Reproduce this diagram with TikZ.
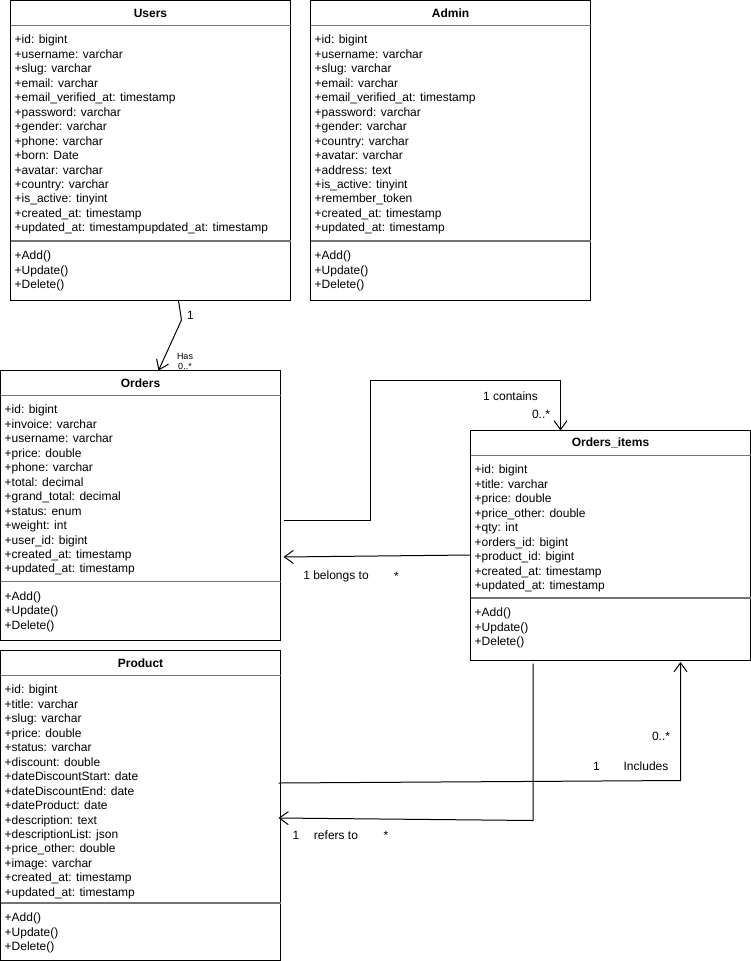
\documentclass[tikz,border=0pt]{standalone}
\usepackage{fontspec}
\setmainfont{Liberation Sans}
\usetikzlibrary{arrows.meta}
\tikzset{
  cls/.style={draw, line width=1pt, fill=white, anchor=north west, inner sep=0pt, outer sep=0pt},
  ttl/.style={font=\bfseries\fontsize{12}{14.46}\selectfont, inner sep=0pt},
  mem/.style={anchor=north west, align=left, inner sep=0pt, font=\fontsize{12}{14.46}\selectfont},
  sepline/.style={draw=black!55, line width=1.6pt},
  conn/.style={line width=1pt, -{Straight Barb[length=9pt,width=13pt,line width=1pt]}},
  lbl/.style={inner sep=0pt, font=\fontsize{12}{14}\selectfont},
  smalllbl/.style={inner sep=0pt, font=\fontsize{9}{10}\selectfont}
}
\begin{document}
\begin{tikzpicture}[x=1pt,y=-1pt]
\useasboundingbox (0,0) rectangle (751,961);

% labels hidden partly behind Orders
\node[smalllbl] (lhas) at (185,356) {Has};
\node[smalllbl] (lhasm) at (185,366) {0..*};

% ---------- Users ----------
\node[cls, minimum width=280pt, minimum height=300pt] (users) at (10.5,0.5) {};
\node[ttl] (usersT) at ([yshift=-12.5pt]users.north) {Users};
\draw[sepline] ([yshift=-25pt]users.north west) -- ([yshift=-25pt]users.north east);
\node[mem] (usersA) at ([xshift=4pt,yshift=-34.5pt]users.north west) {+id: bigint\\+username: varchar\\+slug: varchar\\+email: varchar\\+email\_verified\_at: timestamp\\+password: varchar\\+gender: varchar\\+phone: varchar\\+born: Date\\+avatar: varchar\\+country: varchar\\+is\_active: tinyint\\+created\_at: timestamp\\+updated\_at: timestampupdated\_at: timestamp};
\draw[sepline] ([yshift=-240.5pt]users.north west) -- ([yshift=-240.5pt]users.north east);
\node[mem] (usersM) at ([xshift=4pt,yshift=-250.5pt]users.north west) {+Add()\\+Update()\\+Delete()};

% ---------- Admin ----------
\node[cls, minimum width=280pt, minimum height=300pt] (admin) at (310.5,0.5) {};
\node[ttl] (adminT) at ([yshift=-12.5pt]admin.north) {Admin};
\draw[sepline] ([yshift=-25pt]admin.north west) -- ([yshift=-25pt]admin.north east);
\node[mem] (adminA) at ([xshift=4pt,yshift=-34.5pt]admin.north west) {+id: bigint\\+username: varchar\\+slug: varchar\\+email: varchar\\+email\_verified\_at: timestamp\\+password: varchar\\+gender: varchar\\+country: varchar\\+avatar: varchar\\+address: text\\+is\_active: tinyint\\+remember\_token\\+created\_at: timestamp\\+updated\_at: timestamp};
\draw[sepline] ([yshift=-240.5pt]admin.north west) -- ([yshift=-240.5pt]admin.north east);
\node[mem] (adminM) at ([xshift=4pt,yshift=-250.5pt]admin.north west) {+Add()\\+Update()\\+Delete()};

% ---------- Orders ----------
\node[cls, minimum width=280pt, minimum height=270pt] (orders) at (0.5,370.5) {};
\node[ttl] (ordersT) at ([yshift=-12.5pt]orders.north) {Orders};
\draw[sepline] ([yshift=-25pt]orders.north west) -- ([yshift=-25pt]orders.north east);
\node[mem] (ordersA) at ([xshift=4pt,yshift=-34.5pt]orders.north west) {+id: bigint\\+invoice: varchar\\+username: varchar\\+price: double\\+phone: varchar\\+total: decimal\\+grand\_total: decimal\\+status: enum\\+weight: int\\+user\_id: bigint\\+created\_at: timestamp\\+updated\_at: timestamp};
\draw[sepline] ([yshift=-211pt]orders.north west) -- ([yshift=-211pt]orders.north east);
\node[mem] (ordersM) at ([xshift=4pt,yshift=-221pt]orders.north west) {+Add()\\+Update()\\+Delete()};

% ---------- Orders_items ----------
\node[cls, minimum width=280pt, minimum height=230pt] (items) at (470.5,430.5) {};
\node[ttl] (itemsT) at ([yshift=-12.5pt]items.north) {Orders\_items};
\draw[sepline] ([yshift=-25pt]items.north west) -- ([yshift=-25pt]items.north east);
\node[mem] (itemsA) at ([xshift=4pt,yshift=-34.5pt]items.north west) {+id: bigint\\+title: varchar\\+price: double\\+price\_other: double\\+qty: int\\+orders\_id: bigint\\+product\_id: bigint\\+created\_at: timestamp\\+updated\_at: timestamp};
\draw[sepline] ([yshift=-167.5pt]items.north west) -- ([yshift=-167.5pt]items.north east);
\node[mem] (itemsM) at ([xshift=4pt,yshift=-177.5pt]items.north west) {+Add()\\+Update()\\+Delete()};

% ---------- Product ----------
\node[cls, minimum width=280pt, minimum height=310pt] (product) at (0.5,650.5) {};
\node[ttl] (productT) at ([yshift=-12.5pt]product.north) {Product};
\draw[sepline] ([yshift=-25pt]product.north west) -- ([yshift=-25pt]product.north east);
\node[mem] (productA) at ([xshift=4pt,yshift=-34.5pt]product.north west) {+id: bigint\\+title: varchar\\+slug: varchar\\+price: double\\+status: varchar\\+discount: double\\+dateDiscountStart: date\\+dateDiscountEnd: date\\+dateProduct: date\\+description: text\\+descriptionList: json\\+price\_other: double\\+image: varchar\\+created\_at: timestamp\\+updated\_at: timestamp};
\draw[sepline] ([yshift=-252.5pt]product.north west) -- ([yshift=-252.5pt]product.north east);
\node[mem] (productM) at ([xshift=4pt,yshift=-262.5pt]product.north west) {+Add()\\+Update()\\+Delete()};

% ---------- Connectors ----------
% Users -> Orders (Has)
\draw[conn] ([xshift=168pt]users.south west) -- (181.5,320) -- ([xshift=158pt]orders.north west);
\node[lbl] (l1) at (190.5,315) {1};

% Orders -> Orders_items (contains)
\draw[conn] ([xshift=3pt,yshift=-14.5pt]orders.east) -| (370.5,380.5) -| ([xshift=90pt]items.north west);
\node[lbl] (l2a) at (510.5,396) {1 contains};
\node[lbl] (l2b) at (541,414) {0..*};

% Orders_items -> Orders (belongs to)
\draw[conn] ([yshift=-9.5pt]items.west) -- ([xshift=3pt,yshift=-51.5pt]orders.east);
\node[lbl] (l3a) at (336,576) {1 belongs to};
\node[lbl] (l3b) at (396.5,576) {*};

% Product -> Orders_items (Includes)
\draw[conn] ([xshift=-2pt,yshift=22.5pt]product.east) -- (680.5,780.5) -- ([xshift=210pt,yshift=-1.5pt]items.south west);
\node[lbl] (l4a) at (661,736.5) {0..*};
\node[lbl] (l4b) at (596.5,766) {1};
\node[lbl] (l4c) at (646,766) {Includes};

% Orders_items -> Product (refers to)
\draw[conn] ([xshift=62.5pt,yshift=-3pt]items.south west) -- (533,820.5) -- ([xshift=-2pt,yshift=-12.5pt]product.east);
\node[lbl] (l5a) at (296,835) {1};
\node[lbl] (l5b) at (336,835) {refers to};
\node[lbl] (l5c) at (386,835) {*};
\end{tikzpicture}
\end{document}
